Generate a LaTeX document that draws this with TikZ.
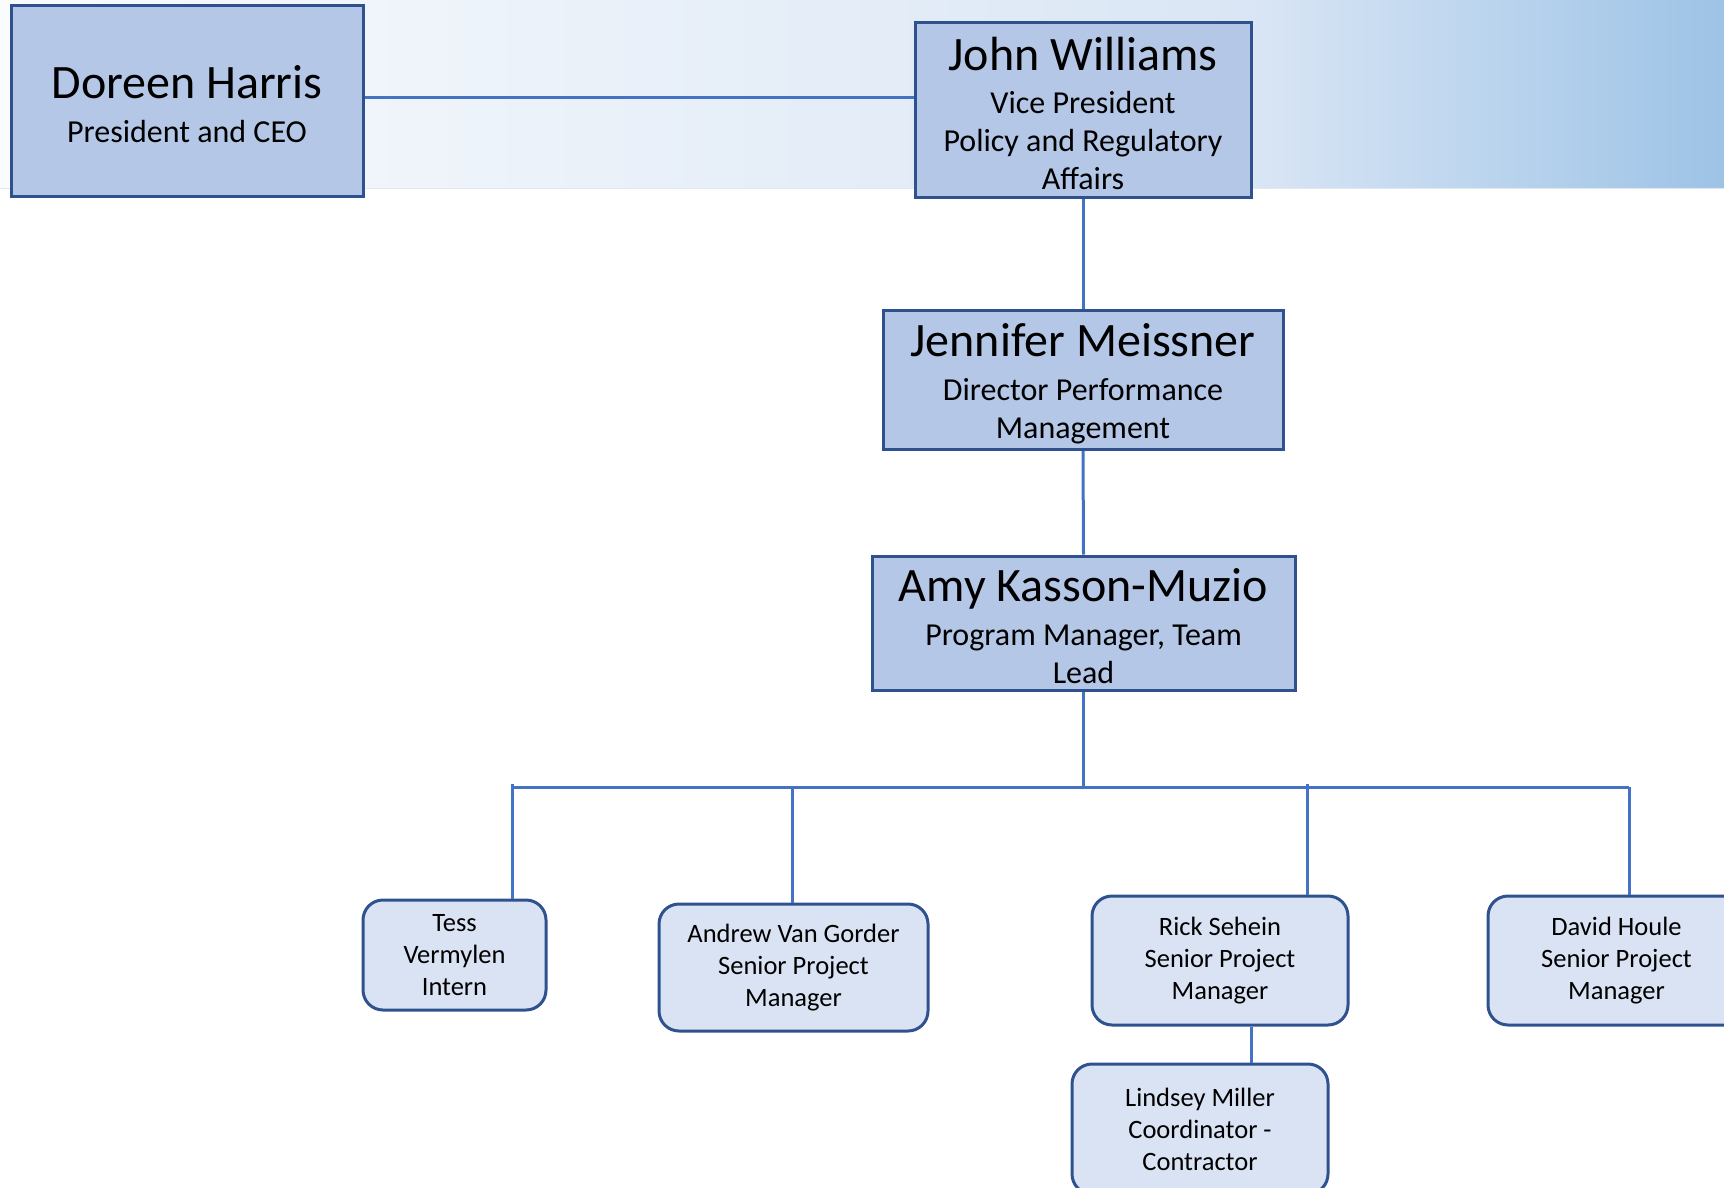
\documentclass[tikz,border=0pt]{standalone}
\usepackage{fontspec}
\setmainfont{Carlito}
\usetikzlibrary{shapes,positioning}
\usepackage{xcolor}

\definecolor{headFill}{HTML}{B4C7E7}
\definecolor{staffFill}{HTML}{DAE3F3}
\definecolor{boxLine}{HTML}{2F528F}
\definecolor{linkLine}{HTML}{4472C4}
\definecolor{bandLeft}{HTML}{F9FBFD}
\definecolor{bandMid}{HTML}{DAE6F5}
\definecolor{bandRight}{HTML}{9DC3E6}
\definecolor{bandEdge}{HTML}{E2E7EE}

\newcommand{\bigName}[1]{{\fontsize{48}{50}\selectfont\rule{0pt}{40pt}#1}}

\begin{document}
\begin{tikzpicture}[
  x=1pt,y=-1pt,
  headBox/.style={draw=boxLine,line width=3pt,rectangle,fill=headFill,inner sep=0pt,font=\fontsize{32}{38}\selectfont},
  staffBox/.style={draw=boxLine,line width=3pt,rectangle,rounded corners=20pt,fill=staffFill,inner sep=0pt,font=\fontsize{26.5}{32}\selectfont},
  bossToStaff/.style={-,line width=3pt,linkLine},
  every node/.style={align=center}]

  \useasboundingbox (0,0) rectangle (1724,1188);

  % gradient band at the top
  \shade[left color=bandLeft,right color=bandMid] (0,0) rectangle (1250,188);
  \shade[left color=bandMid,right color=bandRight] (1250,0) rectangle (1724,188);
  \draw[bandEdge,line width=1pt] (0,188) -- (1724,188);

  % heads
  \node[headBox,minimum width=352pt,minimum height=191pt] (h1) at (187,101)
    {\bigName{Doreen Harris}\\[6pt] President and CEO};
  \node[headBox,minimum width=336pt,minimum height=175pt] (h2) at (1083,110)
    {\bigName{John Williams}\\[5pt] Vice President\\ Policy and Regulatory\\ Affairs};
  \node[headBox,minimum width=400pt,minimum height=139pt] (h3) at (1083,380)
    {\bigName{Jennifer Meissner}\\[6pt] Director Performance\\ Management};
  \node[headBox,minimum width=423pt,minimum height=134pt] (h4) at (1083.5,623)
    {\bigName{Amy Kasson-Muzio}\\[6pt] Program Manager, Team\\ Lead};

  % team
  \node[staffBox,minimum width=183pt,minimum height=110pt] (s1) at (454.5,955)
    {Tess\\ Vermylen\\ Intern};
  \node[staffBox,minimum width=269pt,minimum height=127pt] (s2) at (793.5,967.5)
    {Andrew Van Gorder\\ Senior Project\\ Manager};
  \node[staffBox,minimum width=256pt,minimum height=129pt] (s3) at (1220,960.5)
    {Rick Sehein\\ Senior Project\\ Manager};
  \node[staffBox,minimum width=257pt,minimum height=129pt] (s4) at (1616.5,960.5)
    {David Houle\\ Senior Project\\ Manager};
  \node[staffBox,minimum width=256pt,minimum height=130pt] (s5) at (1200,1129)
    {Lindsey Miller\\ Coordinator -\\ Contractor};

  % bus of the team
  \coordinate (b1) at (512,787);
  \coordinate (b2) at (792,787);
  \coordinate (b3) at (1307,787);
  \coordinate (b4) at (1629,787);

  % heads to heads
  \draw [bossToStaff] ([yshift=3pt]h1.east) -- ([yshift=3pt]h1.east -| h2.west);
  \draw [bossToStaff] (h2.south) -- (h3.north);
  \draw [bossToStaff] (h3.south) -- (h4.north);

  % lead to team
  \draw [bossToStaff] (h4.south) -- (h4.south |- b1);
  \draw [bossToStaff] (b1) -- (b4);
  \draw [bossToStaff] ([yshift=3pt]b1) -- (b1 |- s1.north);
  \draw [bossToStaff] (b2) -- (b2 |- s2.north);
  \draw [bossToStaff] ([yshift=3pt]b3) -- (b3 |- s3.north);
  \draw [bossToStaff] (b4) -- (b4 |- s4.north);
  \draw [bossToStaff] ([xshift=31pt]s3.south) -- ([xshift=31pt]s3.south |- s5.north);

\end{tikzpicture}
\end{document}
